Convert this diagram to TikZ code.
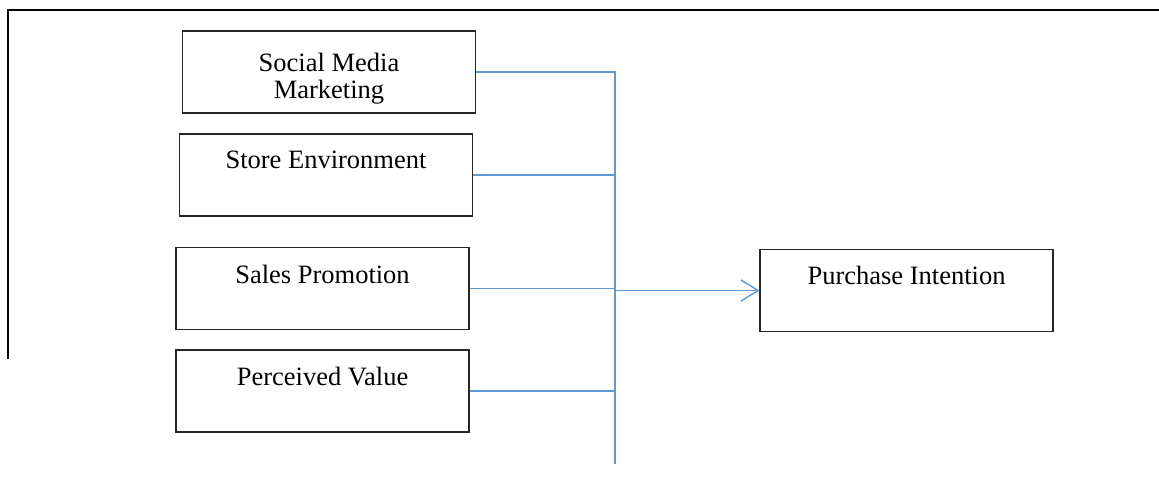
\documentclass[tikz,border=0pt]{standalone}
\usepackage{fontspec}
\setmainfont{Liberation Serif}
\usetikzlibrary{arrows.meta}
\definecolor{linkblue}{RGB}{91,155,213}
\tikzset{
  box/.style={draw=black!85, line width=1.2pt, inner sep=0pt, minimum width=293pt, minimum height=82pt},
  txt/.style={inner sep=0pt, anchor=north, text height=20pt, align=center, font=\fontsize{26.5pt}{27.5pt}\selectfont},
  conn/.style={draw=linkblue, line width=1.4pt},
  frame/.style={draw=black, line width=2.2pt}
}
\begin{document}
\begin{tikzpicture}[x=1pt,y=-1pt]
\useasboundingbox (0,0) rectangle (1159,492);
\coordinate (fa) at (8,359);
\coordinate (fb) at (8,10);
\coordinate (fc) at (1160,10);
\draw[frame] (fa) -- (fb) -- (fc);
\node[box] (b1) at (329,72) {};
\node[box] (b2) at (326,175) {};
\node[box] (b3) at (322.5,288.5) {};
\node[box] (b4) at (322.5,391) {};
\node[box] (b5) at (906.5,290.5) {};
\node[txt] (t1) at ([yshift=-48]b1.north) {Social Media\\Marketing};
\node[txt] (t2) at ([yshift=-15]b2.north) {Store Environment};
\node[txt] (t3) at ([yshift=-16]b3.north) {Sales Promotion};
\node[txt] (t4) at ([yshift=-16]b4.north) {Perceived Value};
\node[txt] (t5) at ([yshift=-15]b5.north) {Purchase Intention};
\coordinate (jtop) at (615,72);
\coordinate (jbot) at (615,464);
\coordinate (jmid) at (615,290.5);
\draw[conn] (b1.east) -- (jtop) -- (jbot);
\draw[conn] (b2.east) -- (b2.east -| jtop);
\draw[conn] (b3.east) -- (b3.east -| jtop);
\draw[conn] (b4.east) -- (b4.east -| jtop);
\draw[conn, -{Straight Barb[length=17pt, width=21pt, line width=1.4pt]}] (jmid) -- (b5.west);
\end{tikzpicture}
\end{document}
